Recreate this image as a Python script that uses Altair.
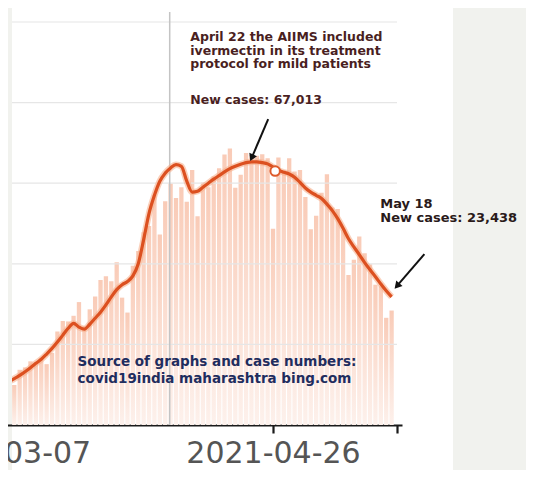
import altair as alt
import pandas as pd

# ---------------- data ----------------
first_day = "2021-03-08"
daily_cases = [8700, 9900, 13700, 14300, 15800, 15600, 16600, 15100, 17900, 23200,
               25800, 25700, 27100, 30500, 24600, 28700, 31900, 36000, 36900, 35700,
               40400, 31600, 27900, 39500,                      # Mar 8 - Mar 31
               43200, 47800, 49400, 57100, 47300, 55500, 59900, 56300, 59000, 55400,
               63300, 51800, 60200, 59000, 61700, 63700, 67100, 68600, 58900, 62100,
               67500, 67000, 66800, 67200, 66200, 48700, 66400, 63300, 66200, 62900,  # April
               63300, 56600, 48600, 51900, 57600, 62200, 54000, 53600, 48400, 37200,
               41000, 46800, 42600, 39900, 34800, 34400, 26600, 28400]  # May 1 - 18
trend = [10800, 11500, 12300, 13200, 14200, 15300, 16300, 17600, 19000, 20600,
         22300, 24000, 25200, 24300, 23800, 25000, 26500, 28000, 29800, 31800,
         33600, 34800, 35600, 37000,
         40000, 46000, 52500, 57000, 60500, 62500, 63800, 64600, 64200, 60500,
         57800, 58000, 59000, 60000, 61000, 61900, 62800, 63600, 64200, 64700,
         65100, 65300, 65300, 65100, 64800, 64000, 63200, 62700, 62300, 61500,
         60200, 58800, 57800, 57000, 56200, 54800, 53200, 51200, 48800, 46200,
         44200, 42300, 40300, 38500, 36800, 35000, 33300, 31800]

grid_values = [20000, 40000, 60000, 80000, 100000]
axis_start = "2021-03-07"
axis_end = "2021-05-19"

marker_date = ["2021-04-06T20:00:00Z"]
marker_top = [102500]
hover_date = ["2021-04-26T09:30:00Z"]
hover_value = [63000]

arrow_from_date = ["2021-04-25T02:30:00Z", "2021-05-24T02:00:00Z"]
arrow_from_value = [75900, 42400]
arrow_to_date = ["2021-04-22T01:00:00Z", "2021-05-19T00:00:00Z"]
arrow_to_value = [66300, 34500]
arrow_angle = [24, 41]

note1_lines = ["April 22 the AIIMS included", "ivermectin in its treatment",
               "protocol for mild patients", "New cases:  67,013"]
note1_values = [96300, 92900, 89500, 80600]
note1_date = "2021-04-10T15:30:00Z"

note2_lines = ["May 18", "New cases: 23,438"]
note2_values = [54800, 51300]
note2_date = "2021-05-15T21:30:00Z"

note3_lines = ["Source of graphs and case numbers:", "covid19india maharashtra bing.com"]
note3_values = [15600, 11400]
note3_date = "2021-03-20T18:00:00Z"

# ---------------- tables ----------------
days = pd.date_range(first_day, periods=len(daily_cases), freq="D").strftime("%Y-%m-%d").tolist()
df = pd.DataFrame({"date": days, "cases": daily_cases, "trend": trend})
grid_df = pd.DataFrame({"v": grid_values, "x0": axis_start, "x1": axis_end})
marker_df = pd.DataFrame({"date": marker_date, "top": marker_top})
hover_df = pd.DataFrame({"date": hover_date, "v": hover_value})
arrow_df = pd.DataFrame({"x0": arrow_from_date, "y0": arrow_from_value,
                         "x1": arrow_to_date, "y1": arrow_to_value, "ang": arrow_angle})
n1 = pd.DataFrame({"t": note1_lines, "v": note1_values, "date": note1_date})
n2 = pd.DataFrame({"t": note2_lines, "v": note2_values, "date": note2_date})
n3 = pd.DataFrame({"t": note3_lines, "v": note3_values, "date": note3_date})

xscale = alt.Scale(type="utc",
                   domain=[alt.DateTime(year=2021, month=3, date=7, utc=True),
                           alt.DateTime(year=2021, month=5, date=19, utc=True)],
                   range=[-13.5, 390])
yscale = alt.Scale(domain=[0, 100000], range=[417, 14])

xaxis = alt.Axis(
    values=[alt.DateTime(year=2021, month=3, date=7, utc=True),
            alt.DateTime(year=2021, month=4, date=26, utc=True),
            alt.DateTime(year=2021, month=5, date=19, utc=True)],
    labelExpr="datum.value > utc(2021, 4, 10) ? '' : utcFormat(datum.value, '%Y-%m-%d')",
    labelFlush=False, labelOverlap=False, labelLimit=500, offset=-45, grid=False,
    title=None, domainColor="#1a1a1a", domainWidth=2.2, tickColor="#1a1a1a",
    tickWidth=2.2, tickSize=8, labelFont="DejaVu Sans", labelFontSize=30,
    labelColor="#555555", labelPadding=5,
)

X = lambda f: alt.X(f, type="temporal", scale=xscale, axis=xaxis)
Y = lambda f: alt.Y(f, type="quantitative", scale=yscale, axis=None)

grid = alt.Chart(grid_df).mark_rule(clip=True, color="#e6e6e6", strokeWidth=1.2).encode(
    x=X("x0"), x2="x1", y=Y("v"))

marker = alt.Chart(marker_df).mark_rule(color="#c4c4c4", strokeWidth=1.5).encode(
    x=X("date"), y=Y("top"), y2=alt.datum(0))

bars = alt.Chart(df).mark_bar(
    width=4.3, clip=True,
    color=alt.Gradient(gradient="linear",
                       stops=[alt.GradientStop(color="#f9cbb7", offset=0),
                              alt.GradientStop(color="#fdf1ec", offset=1)],
                       x1=0, x2=0, y1=0, y2=1),
).encode(x=X("date"), y=Y("cases"))

halo = alt.Chart(df).mark_line(clip=True, color="#f7b08d", strokeWidth=6.5,
                               opacity=0.6, interpolate="monotone").encode(
    x=X("date"), y=Y("trend"))
line = alt.Chart(df).mark_line(clip=True, color="#dc5020", strokeWidth=3.2,
                               interpolate="monotone").encode(
    x=X("date"), y=Y("trend"))

hover = alt.Chart(hover_df).mark_point(filled=True, fill="white", stroke="#de5a2a",
                                       strokeWidth=2, size=90, opacity=1).encode(
    x=X("date"), y=Y("v"))

arrows = alt.Chart(arrow_df).mark_rule(color="#111111", strokeWidth=2).encode(
    x=X("x0"), x2="x1", y=Y("y0"), y2="y1")
heads = alt.Chart(arrow_df).mark_point(shape="triangle-down", filled=True,
                                       color="#111111", size=70, opacity=1).encode(
    x=X("x1"), y=Y("y1"), angle=alt.Angle("ang:Q", scale=None))

t1 = alt.Chart(n1).mark_text(align="left", baseline="middle", font="DejaVu Sans",
                             fontWeight="bold", fontSize=12.5, color="#4a1f1f").encode(
    x=X("date"), y=Y("v"), text="t:N")
t2 = alt.Chart(n2).mark_text(align="left", baseline="middle", font="DejaVu Sans",
                             fontWeight="bold", fontSize=13, color="#2a1a1a").encode(
    x=X("date"), y=Y("v"), text="t:N")
t3 = alt.Chart(n3).mark_text(align="left", baseline="middle", font="DejaVu Sans",
                             fontWeight="bold", fontSize=13.5, color="#1f2d5e").encode(
    x=X("date"), y=Y("v"), text="t:N")

chart = alt.layer(bars, grid, marker, halo, line, hover, arrows, heads, t1, t2, t3).properties(
    width=441, height=462,
    autosize=alt.AutoSizeParams(type="none"),
    padding={"left": 4, "top": 0, "right": 73, "bottom": 0},
    background="#f1f2ee",
).configure_view(fill="white", strokeWidth=0)

chart.save("out.html", embed_options={"renderer": "svg", "actions": False})
